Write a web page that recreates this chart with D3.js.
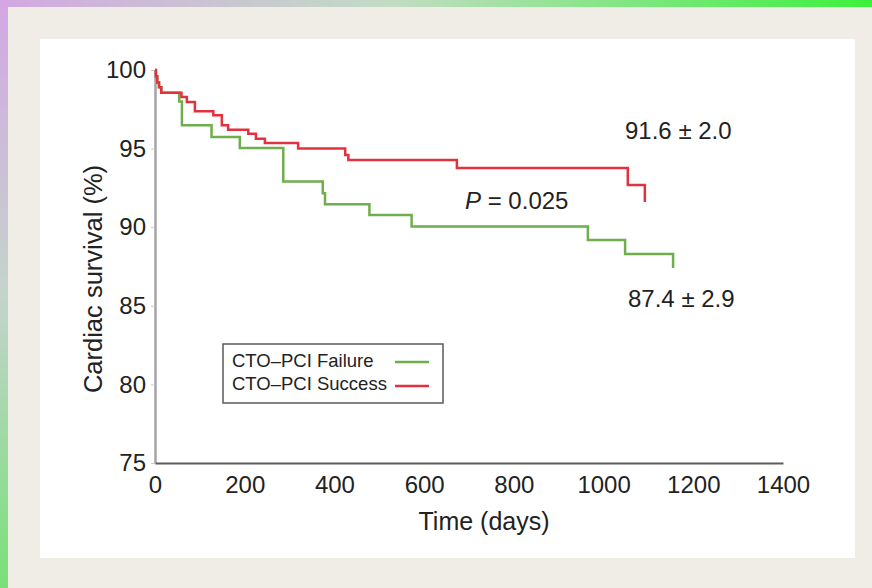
<!DOCTYPE html>
<html>
<head>
<meta charset="utf-8">
<script src="https://cdn.jsdelivr.net/npm/d3@7"></script>
<style>
  html, body { margin: 0; padding: 0; background: #efede5; }
  svg { display: block; font-family: "Liberation Sans", Arial, Helvetica, sans-serif; }
</style>
</head>
<body>
<div id="chart"></div>
<script>
// tick labels
const xTicks = [0, 200, 400, 600, 800, 1000, 1200, 1400];
const yTicks = [75, 80, 85, 90, 95, 100];

// CTO-PCI Failure (green) - days / survival %
const failDays = [0, 2, 5, 9, 14, 54, 60, 126, 189, 286, 374, 379, 478, 572, 965, 1048, 1155];
const failSurv = [100, 99.6, 99.2, 98.9, 98.56, 98.0, 96.48, 95.74, 95.04, 92.9, 92.16, 91.46, 90.78, 90.04, 89.19, 88.3, 87.4];

// CTO-PCI Success (red)
const succDays = [0, 2, 5, 9, 14, 59, 71, 89, 130, 149, 163, 208, 225, 245, 319, 424, 431, 673, 1054, 1092];
const succSurv = [100, 99.6, 99.2, 98.9, 98.56, 98.28, 97.96, 97.37, 97.12, 96.48, 96.2, 95.95, 95.63, 95.36, 95.0, 94.6, 94.27, 93.77, 92.68, 91.6];

const seriesNames = ["CTO\u2013PCI Failure", "CTO\u2013PCI Success"];
const seriesColors = ["#6fae4c", "#e2323f"];

const W = 872, H = 588;
const svg = d3.select("#chart").append("svg")
    .attr("width", W)
    .attr("height", H);

// frame: gradient strips + beige + white panel
const defs = svg.append("defs");
const gl = defs.append("linearGradient").attr("id", "leftStrip")
    .attr("x1", 0).attr("y1", 0).attr("x2", 0).attr("y2", 1);
gl.append("stop").attr("offset", "0%").attr("stop-color", "#d4a6e4");
gl.append("stop").attr("offset", "50%").attr("stop-color", "#c4d4cc");
gl.append("stop").attr("offset", "100%").attr("stop-color", "#78e078");
const gt = defs.append("linearGradient").attr("id", "topStrip")
    .attr("x1", 0).attr("y1", 0).attr("x2", 1).attr("y2", 0);
gt.append("stop").attr("offset", "0%").attr("stop-color", "#d2a8e2");
gt.append("stop").attr("offset", "45%").attr("stop-color", "#c2dcc4");
gt.append("stop").attr("offset", "100%").attr("stop-color", "#3cf03c");

svg.append("rect").attr("width", W).attr("height", H).attr("fill", "#efede5");
svg.append("rect").attr("x", 0).attr("y", 0).attr("width", W).attr("height", 7).attr("fill", "url(#topStrip)");
svg.append("rect").attr("x", 0).attr("y", 0).attr("width", 8).attr("height", H).attr("fill", "url(#leftStrip)");
svg.append("rect").attr("x", 40).attr("y", 39).attr("width", 815).attr("height", 519).attr("fill", "#ffffff");

// scales
const x = d3.scaleLinear().domain([0, 1400]).range([155, 783]);
const y = d3.scaleLinear().domain([75, 100]).range([463, 70]);

// y axis
const yAxis = svg.append("g")
    .attr("transform", `translate(${x(0)},0)`)
    .call(d3.axisLeft(y).tickValues(yTicks).tickSize(4).tickSizeOuter(0).tickPadding(5));
yAxis.select(".domain").attr("stroke", "#a4a4a4").attr("stroke-width", 2.5);
yAxis.selectAll(".tick line").attr("stroke", "#c8c8c8");
yAxis.selectAll("text").attr("fill", "#222").style("font-size", "24px");

// x axis
const xAxis = svg.append("g")
    .attr("transform", `translate(0,${y(75)})`)
    .call(d3.axisBottom(x).tickValues(xTicks).tickFormat(d3.format("d"))
        .tickSize(0).tickSizeOuter(0).tickPadding(13));
xAxis.select(".domain").attr("stroke", "#5c5c5c").attr("stroke-width", 2);
xAxis.selectAll("text").attr("fill", "#222").style("font-size", "24px");

// axis titles
svg.append("text")
    .attr("x", 484).attr("y", 530)
    .attr("text-anchor", "middle")
    .attr("fill", "#222")
    .style("font-size", "25px")
    .text("Time (days)");

svg.append("text")
    .attr("transform", "translate(102,279) rotate(-90)")
    .attr("text-anchor", "middle")
    .attr("fill", "#222")
    .style("font-size", "25.5px")
    .text("Cardiac survival (%)");

// survival curves
const line = d3.line()
    .x(d => x(d[0]))
    .y(d => y(d[1]))
    .curve(d3.curveStepAfter);

const failData = failDays.map((d, i) => [d, failSurv[i]]);
const succData = succDays.map((d, i) => [d, succSurv[i]]);

// make the last drop vertical (step ends on the final point)
function stepPath(data) {
    const body = data.slice(0, -1);
    const last = data[data.length - 1];
    const pts = body.concat([[last[0], body[body.length - 1][1]]]);
    return line(pts) + `L${x(last[0])},${y(last[1])}`;
}

svg.append("path")
    .attr("d", stepPath(failData))
    .attr("fill", "none")
    .attr("stroke", seriesColors[0])
    .attr("stroke-width", 2.5);

svg.append("path")
    .attr("d", stepPath(succData))
    .attr("fill", "none")
    .attr("stroke", seriesColors[1])
    .attr("stroke-width", 2.5);

// annotations
svg.append("text")
    .attr("x", 625).attr("y", 139)
    .attr("fill", "#222")
    .style("font-size", "24px")
    .text("91.6 \u00b1 2.0");

svg.append("text")
    .attr("x", 628).attr("y", 307)
    .attr("fill", "#222")
    .style("font-size", "24px")
    .text("87.4 \u00b1 2.9");

const pText = svg.append("text")
    .attr("x", 465).attr("y", 209)
    .attr("fill", "#222")
    .style("font-size", "24px");
pText.append("tspan").style("font-style", "italic").text("P");
pText.append("tspan").text(" = 0.025");

// legend
const legend = svg.append("g");
legend.append("rect")
    .attr("x", 223).attr("y", 344)
    .attr("width", 220).attr("height", 59)
    .attr("fill", "#fff")
    .attr("stroke", "#5a5a5a")
    .attr("stroke-width", 1.5);

seriesNames.forEach((name, i) => {
    legend.append("text")
        .attr("x", 232).attr("y", 367 + i * 23)
        .attr("fill", "#222")
        .style("font-size", "18.5px")
        .text(name);
    legend.append("line")
        .attr("x1", 395).attr("x2", 429)
        .attr("y1", 362 + i * 24).attr("y2", 362 + i * 24)
        .attr("stroke", seriesColors[i])
        .attr("stroke-width", 2.5);
});
</script>
</body>
</html>
